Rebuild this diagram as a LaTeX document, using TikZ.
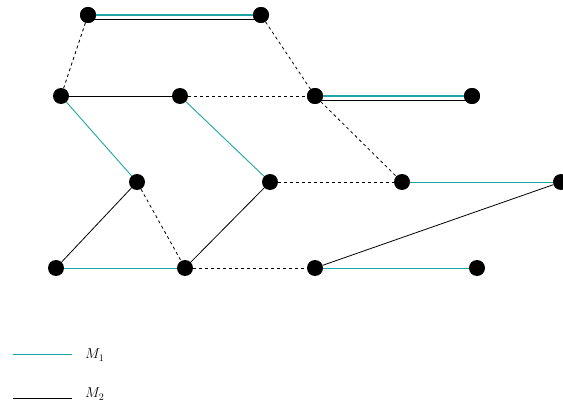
\documentclass[tikz,border=0pt]{standalone}
\definecolor{tealM}{RGB}{30,165,165}
\begin{document}
\begin{tikzpicture}[x=1pt,y=-1pt,
  vtx/.style={circle,fill=black,inner sep=0pt,minimum size=16pt},
  mone/.style={tealM,line width=0.9pt},
  monethick/.style={tealM,line width=1.4pt},
  mtwo/.style={black,line width=0.8pt},
  gap/.style={black,dashed,line width=0.8pt},
  lbl/.style={anchor=west,inner sep=0pt,font=\Large}]
\useasboundingbox (0,0) rectangle (563,404);
\node[vtx] (A) at (88,15) {};
\node[vtx] (B) at (261,15) {};
\node[vtx] (C) at (61,96) {};
\node[vtx] (D) at (180,96) {};
\node[vtx] (E) at (315,96) {};
\node[vtx] (F) at (472,96) {};
\node[vtx] (G) at (137,182) {};
\node[vtx] (H) at (270,182) {};
\node[vtx] (I) at (402,182) {};
\node[vtx] (J) at (561,182) {};
\node[vtx] (K) at (56,268) {};
\node[vtx] (L) at (185,268) {};
\node[vtx] (M) at (315,268) {};
\node[vtx] (N) at (477,268) {};
% edges
\draw[monethick] (A) -- (B);
\draw[mtwo] ([yshift=-4.5pt]A.center) -- ([yshift=-4.5pt]B.center);
\draw[monethick] (E) -- (F);
\draw[mtwo] ([yshift=-4.5pt]E.center) -- ([yshift=-4.5pt]F.center);
\draw[gap] (A) -- (C);
\draw[gap] (B) -- (E);
\draw[mtwo] (C) -- (D);
\draw[gap] (D) -- (E);
\draw[gap] (E) -- (I);
\draw[mone] (C) -- (G);
\draw[mone] (D) -- (H);
\draw[gap] (H) -- (I);
\draw[mone] (I) -- (J);
\draw[mtwo] (G) -- (K);
\draw[gap] (G) -- (L);
\draw[mtwo] (H) -- (L);
\draw[mone] (K) -- (L);
\draw[gap] (L) -- (M);
\draw[mtwo] (M) -- (J);
\draw[mone] (M) -- (N);
% redraw nodes on top
\foreach \n in {A,B,E,F} \fill (\n) circle (8pt);
% legend
\coordinate (l1a) at (13,354);
\coordinate (l1b) at (72,354);
\coordinate (l2a) at (13,398);
\coordinate (l2b) at (72,398);
\draw[mone] (l1a) -- (l1b);
\draw[mtwo] (l2a) -- (l2b);
\node[lbl] (t1) at (85,355) {$M_1$};
\node[lbl] (t2) at (85,394) {$M_2$};
\end{tikzpicture}
\end{document}
